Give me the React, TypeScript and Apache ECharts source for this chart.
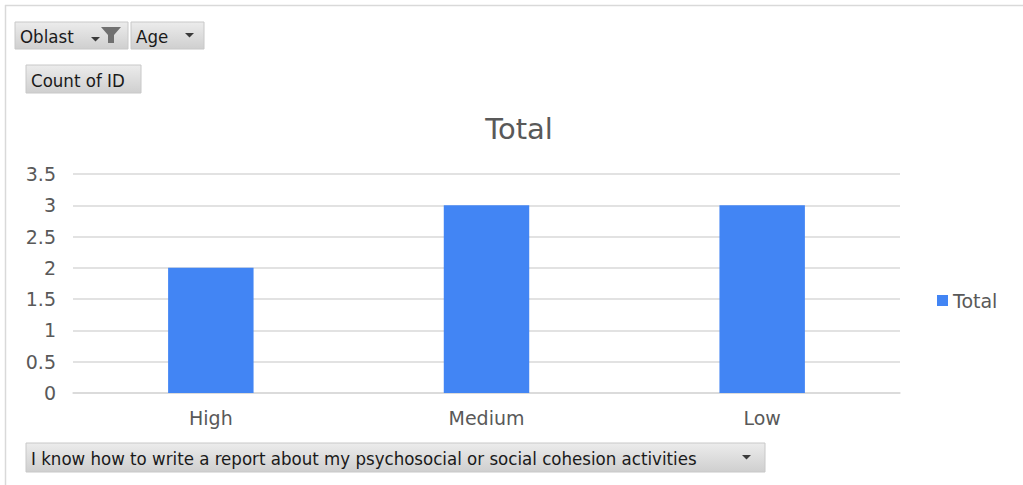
import React, { useEffect, useRef } from "react";
import * as echarts from "echarts";

const categories = ["High", "Medium", "Low"];
const totalValues = [2, 3, 3];
const seriesName = "Total";
const chartTitle = "Total";
const filterLabels = ["Oblast", "Age"];
const valueLabel = "Count of ID";
const axisFieldLabel = "I know how to write a report about my psychosocial or social cohesion activities";

const labelFont = "'DejaVu Sans', Verdana, sans-serif";
const btnFont = "18.5px 'DejaVu Sans Condensed', 'DejaVu Sans', sans-serif";

const btnFill = new echarts.graphic.LinearGradient(0, 0, 0, 1, [
  { offset: 0, color: "#ececec" },
  { offset: 1, color: "#cfcfcf" },
]);

function button(x: number, y: number, w: number, h: number, label: string, extra: any[] = []) {
  return {
    type: "group",
    x,
    y,
    children: [
      { type: "rect", shape: { x: 0, y: 0, width: w, height: h }, style: { fill: btnFill, stroke: "#c8c8c8", lineWidth: 1 } },
      {
        type: "text",
        x: 5,
        y: h / 2 + 1,
        style: { text: label, font: btnFont, fill: "#1a1a1a", verticalAlign: "middle" },
      },
      ...extra,
    ],
  };
}

function arrow(x: number, y: number) {
  return { type: "polygon", shape: { points: [[x, y], [x + 9, y], [x + 4.5, y + 4.5]] }, style: { fill: "#3a3a3a" } };
}

export default function App() {
  const ref = useRef<HTMLDivElement>(null);
  useEffect(() => {
    const chart = echarts.init(ref.current!, null, { renderer: "svg" });
    chart.setOption({
      animation: false,
      backgroundColor: "#ffffff",
      title: {
        text: chartTitle,
        left: 514,
        top: 109,
        textAlign: "center",
        textStyle: { fontFamily: labelFont, fontSize: 29, fontWeight: "normal", color: "#595959" },
      },
      legend: {
        data: [seriesName],
        left: 932,
        top: 286,
        orient: "vertical",
        icon: "rect",
        itemWidth: 11,
        itemHeight: 11,
        itemGap: 5,
        textStyle: { fontFamily: labelFont, fontSize: 19, color: "#595959" },
      },
      grid: { left: 73, right: 123, top: 174, bottom: 92, containLabel: false },
      xAxis: {
        type: "category",
        data: categories,
        axisLine: { lineStyle: { color: "#d9d9d9", width: 1.5 } },
        axisTick: { show: false },
        axisLabel: { fontFamily: labelFont, fontSize: 19, color: "#595959", margin: 15 },
      },
      yAxis: {
        type: "value",
        min: 0,
        max: 3.5,
        interval: 0.5,
        axisLine: { show: false },
        axisTick: { show: false },
        splitLine: { lineStyle: { color: "#d9d9d9", width: 1.5 } },
        axisLabel: { fontFamily: labelFont, fontSize: 19, color: "#595959", margin: 17 },
      },
      series: [
        {
          name: seriesName,
          type: "bar",
          data: totalValues,
          barWidth: "31%",
          itemStyle: { color: "#4285f4" },
        },
      ],
      graphic: [
        { type: "line", shape: { x1: 5, y1: 5.5, x2: 1023, y2: 5.5 }, style: { stroke: "#d9d9d9", lineWidth: 1.5 } },
        { type: "line", shape: { x1: 5.5, y1: 5, x2: 5.5, y2: 485 }, style: { stroke: "#d9d9d9", lineWidth: 1.5 } },
        button(15, 22, 113, 27, filterLabels[0], [
          arrow(76, 15),
          { type: "polygon", shape: { points: [[86, 5], [106, 5], [99, 13], [99, 21], [93, 21], [93, 13]] }, style: { fill: "#707070" } },
        ]),
        button(131, 22, 73, 27, filterLabels[1], [arrow(54, 11)]),
        button(26, 65, 115, 28, valueLabel),
        button(26, 443, 739, 29, axisFieldLabel, [arrow(716, 12)]),
      ],
    });
    return () => chart.dispose();
  }, []);
  return <div ref={ref} style={{ position: "absolute", left: 0, top: 0, width: 1023, height: 485 }} />;
}
